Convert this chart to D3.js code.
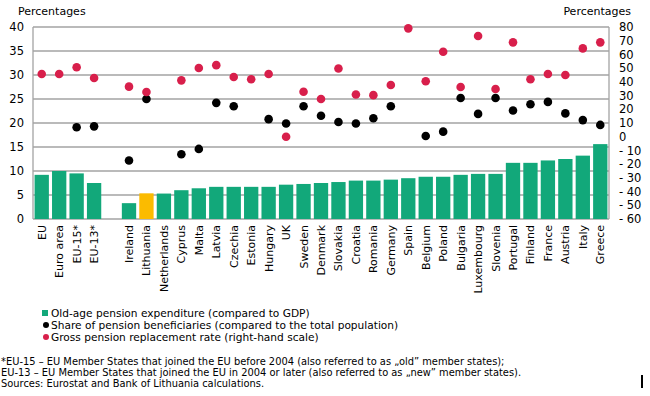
<!DOCTYPE html>
<meta charset="utf-8">
<script src="https://d3js.org/d3.v7.min.js"></script>
<style>
body { margin: 0; background: #fff; }
svg text { font-family: "DejaVu Sans", Verdana, sans-serif; fill: #000; }
</style>
<body>
<script>

// categories ("" is the gap after the EU aggregates)
var categories = ["EU", "Euro area", "EU-15*", "EU-13*", "", "Ireland", "Lithuania", "Netherlands",
  "Cyprus", "Malta", "Latvia", "Czechia", "Estonia", "Hungary", "UK", "Sweden", "Denmark",
  "Slovakia", "Croatia", "Romania", "Germany", "Spain", "Belgium", "Poland", "Bulgaria",
  "Luxembourg", "Slovenia", "Portugal", "Finland", "France", "Austria", "Italy", "Greece"];

// old-age pension expenditure, % of GDP (left scale)
var expenditure = [9.2, 10.0, 9.5, 7.5, null, 3.3, 5.35, 5.3,
  6.0, 6.4, 6.7, 6.7, 6.7, 6.7, 7.15, 7.3, 7.5,
  7.7, 8.0, 8.0, 8.2, 8.5, 8.8, 8.8, 9.2,
  9.4, 9.4, 11.7, 11.7, 12.2, 12.5, 13.2, 15.6];

// share of pension beneficiaries, % of population (left scale)
var beneficiaries = [null, null, 19.1, 19.3, null, 12.2, 25.0, null,
  13.5, 14.6, 24.2, 23.5, null, 20.8, 19.9, 23.5, 21.5,
  20.2, 19.9, 21.0, 23.5, null, 17.3, 18.2, 25.2,
  21.9, 25.2, 22.6, 23.9, 24.4, 22.0, 20.6, 19.6];

// gross pension replacement rate (right scale)
var replacement = [45.7, 45.7, 50.6, 42.8, null, 36.5, 32.6, null,
  41.1, 50.1, 52.2, 43.5, 41.9, 45.7, 0, 32.8, 27.5,
  49.7, 30.8, 30.3, 37.7, 79, 40.4, 61.9, 36.2,
  73.4, 34.8, 68.8, 41.9, 45.7, 45, 64.4, 68.8];

var leftTicks = [0, 5, 10, 15, 20, 25, 30, 35, 40];
var rightTicks = [80, 70, 60, 50, 40, 30, 20, 10, 0, -10, -20, -30, -40, -50, -60];

var legendItems = ["Old-age pension expenditure (compared to GDP)",
  "Share of pension beneficiaries (compared to the total population)",
  "Gross pension replacement rate (right-hand scale)"];

var footnotes = ["*EU-15 \u2013 EU Member States that joined the EU before 2004 (also referred to as \u201eold\u201d member states);",
  "EU-13 \u2013 EU Member States that joined the EU in 2004 or later (also referred to as \u201enew\u201d member states).",
  "Sources: Eurostat and Bank of Lithuania calculations."];

var green = "#12a87a", yellow = "#fbbb00", red = "#d81f4b", grid = "#a3a3a3";

var width = 650, height = 396;
var plot = {left: 33, right: 609, top: 27, bottom: 219};

var svg = d3.select("body").append("svg")
    .attr("width", width)
    .attr("height", height);

var x = d3.scaleBand()
    .domain(categories.map(function(d, i) { return i; }))
    .range([plot.left, plot.right])
    .paddingInner(0.18)
    .paddingOuter(0.09);

var yLeft = d3.scaleLinear().domain([0, 40]).range([plot.bottom, plot.top]);
var yRight = d3.scaleLinear().domain([-60, 80]).range([plot.bottom, plot.top]);

// gridlines
svg.selectAll(".grid")
    .data(leftTicks)
    .enter().append("line")
    .attr("x1", plot.left)
    .attr("x2", plot.right)
    .attr("y1", function(d) { return yLeft(d); })
    .attr("y2", function(d) { return yLeft(d); })
    .attr("stroke", grid)
    .attr("stroke-width", 1.3);

// frame sides
svg.append("line")
    .attr("x1", plot.left).attr("x2", plot.left)
    .attr("y1", plot.top).attr("y2", plot.bottom)
    .attr("stroke", grid).attr("stroke-width", 1.3);
svg.append("line")
    .attr("x1", plot.right).attr("x2", plot.right)
    .attr("y1", plot.top).attr("y2", plot.bottom)
    .attr("stroke", grid).attr("stroke-width", 1.3);

// left tick labels
svg.selectAll(".ltick")
    .data(leftTicks)
    .enter().append("text")
    .attr("x", 24)
    .attr("y", function(d) { return yLeft(d); })
    .attr("dy", "0.36em")
    .attr("text-anchor", "end")
    .attr("font-size", "11.5px")
    .text(String);

// right tick labels
svg.selectAll(".rtick")
    .data(rightTicks)
    .enter().append("text")
    .attr("x", 619)
    .attr("y", function(d) { return yRight(d); })
    .attr("dy", "0.36em")
    .attr("text-anchor", "start")
    .attr("font-size", "11.5px")
    .text(function(d) { return d < 0 ? "- " + Math.abs(d) : String(d); });

svg.append("text")
    .attr("x", 18).attr("y", 15)
    .attr("font-size", "11px")
    .text("Percentages");
svg.append("text")
    .attr("x", 631).attr("y", 15)
    .attr("text-anchor", "end")
    .attr("font-size", "11px")
    .text("Percentages");

// bars
svg.append("g").selectAll("rect")
    .data(categories.map(function(c, i) { return {i: i, name: c, v: expenditure[i]}; })
      .filter(function(d) { return d.v !== null; }))
    .enter().append("rect")
    .attr("x", function(d) { return x(d.i); })
    .attr("width", x.bandwidth())
    .attr("y", function(d) { return yLeft(d.v); })
    .attr("height", function(d) { return yLeft(0) - yLeft(d.v); })
    .attr("fill", function(d) { return d.name == "Lithuania" ? yellow : green; });

// black dots
svg.append("g").selectAll("circle")
    .data(categories.map(function(c, i) { return {i: i, v: beneficiaries[i]}; })
      .filter(function(d) { return d.v !== null; }))
    .enter().append("circle")
    .attr("cx", function(d) { return x(d.i) + x.bandwidth() / 2; })
    .attr("cy", function(d) { return yLeft(d.v); })
    .attr("r", 4.3)
    .attr("fill", "#000");

// red dots
svg.append("g").selectAll("circle")
    .data(categories.map(function(c, i) { return {i: i, v: replacement[i]}; })
      .filter(function(d) { return d.v !== null; }))
    .enter().append("circle")
    .attr("cx", function(d) { return x(d.i) + x.bandwidth() / 2; })
    .attr("cy", function(d) { return yRight(d.v); })
    .attr("r", 4.3)
    .attr("fill", red);

// category labels
svg.append("g").selectAll("text")
    .data(categories.map(function(c, i) { return {i: i, name: c}; }))
    .enter().append("text")
    .attr("transform", function(d) {
      return "translate(" + (x(d.i) + x.bandwidth() / 2) + "," + 225 + ") rotate(-90)";
    })
    .attr("dy", "0.36em")
    .attr("text-anchor", "end")
    .attr("font-size", "11px")
    .text(function(d) { return d.name; });

// legend
var legend = svg.append("g").selectAll("g")
    .data(legendItems)
    .enter().append("g")
    .attr("transform", function(d, i) { return "translate(42," + (313 + i * 12) + ")"; });
legend.each(function(d, i) {
  var g = d3.select(this);
  if (i == 0) {
    g.append("rect").attr("x", 0).attr("y", -3).attr("width", 6).attr("height", 6).attr("fill", green);
  } else {
    g.append("circle").attr("cx", 4).attr("cy", 0).attr("r", 3).attr("fill", i == 1 ? "#000" : red);
  }
});
legend.append("text")
    .attr("x", 9)
    .attr("dy", "0.36em")
    .attr("font-size", "10.6px")
    .text(String);

// footnotes
svg.append("g").selectAll("text")
    .data(footnotes)
    .enter().append("text")
    .attr("x", 1)
    .attr("y", function(d, i) { return 365 + i * 11; })
    .attr("font-size", "9.9px")
    .text(String);

// stray cursor mark at bottom right
svg.append("rect")
    .attr("x", 641).attr("y", 375)
    .attr("width", 2).attr("height", 13)
    .attr("fill", "#000");

</script>
</body>
</html>
